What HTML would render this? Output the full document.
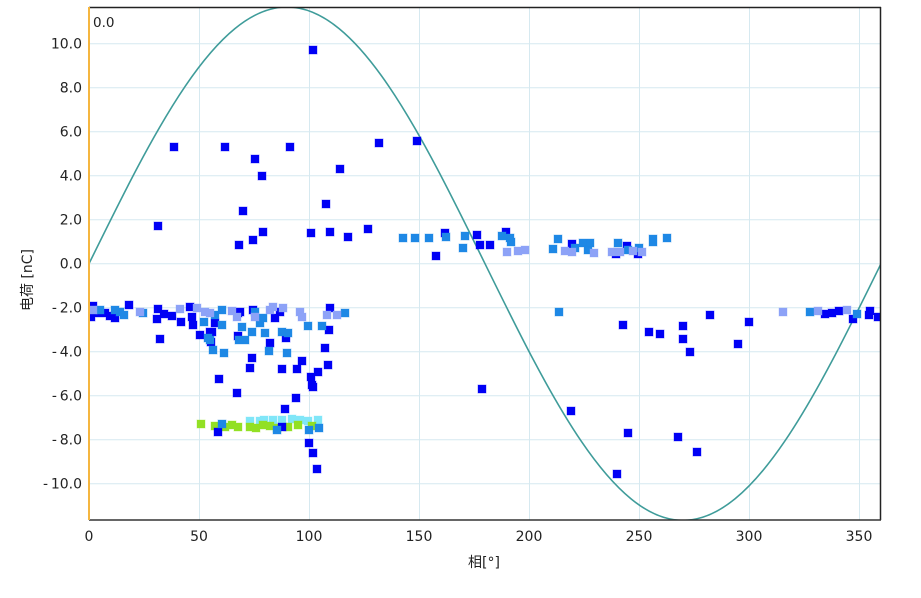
<!DOCTYPE html>
<html><head><meta charset="utf-8"><style>
html,body{margin:0;padding:0;background:#fff;}
body{width:921px;height:598px;overflow:hidden;}
svg{display:block;}
text{font-family:"DejaVu Sans","Liberation Sans","Noto Sans CJK SC",sans-serif;fill:#222;}
</style></head><body>
<svg width="921" height="598" viewBox="0 0 921 598" xmlns="http://www.w3.org/2000/svg">
<defs><clipPath id="pa"><rect x="89" y="7" width="792" height="513"/></clipPath></defs>
<rect x="0" y="0" width="921" height="598" fill="#fff"/>
<g stroke="#d6e9f0" stroke-width="1">
<line x1="199.5" y1="7" x2="199.5" y2="520"/><line x1="309.5" y1="7" x2="309.5" y2="520"/><line x1="419.5" y1="7" x2="419.5" y2="520"/><line x1="529.5" y1="7" x2="529.5" y2="520"/><line x1="639.5" y1="7" x2="639.5" y2="520"/><line x1="749.5" y1="7" x2="749.5" y2="520"/><line x1="859.5" y1="7" x2="859.5" y2="520"/>
<line x1="89" y1="43.7" x2="881" y2="43.7"/><line x1="89" y1="87.7" x2="881" y2="87.7"/><line x1="89" y1="131.7" x2="881" y2="131.7"/><line x1="89" y1="175.7" x2="881" y2="175.7"/><line x1="89" y1="219.7" x2="881" y2="219.7"/><line x1="89" y1="263.7" x2="881" y2="263.7"/><line x1="89" y1="307.7" x2="881" y2="307.7"/><line x1="89" y1="351.7" x2="881" y2="351.7"/><line x1="89" y1="395.7" x2="881" y2="395.7"/><line x1="89" y1="439.7" x2="881" y2="439.7"/><line x1="89" y1="483.7" x2="881" y2="483.7"/>
</g>
<g clip-path="url(#pa)">
<path fill="none" stroke="#3f9c9a" stroke-width="1.6" d="M89 263.7 C153.57 132.2 215.34 7 287 7 C358.66 7 420.43 132.2 485 263.7 C549.57 395.2 611.34 520.4 683 520.4 C754.66 520.4 816.43 395.2 881 263.7"/>
<g stroke-width="1" stroke-opacity="0.35">
<path fill="#80e6f8" stroke="#80e6f8" d="M246 417h8v8h-8z M256 417h8v8h-8z M269 416h8v8h-8z M278 416h8v8h-8z M288 415h8v8h-8z M304 417h8v8h-8z M314 416h8v8h-8z M296 416h8v8h-8z M260 416h8v8h-8z"/>
<path fill="#92e024" stroke="#92e024" d="M197 420h8v8h-8z M211 422h8v8h-8z M221 423h8v8h-8z M228 421h8v8h-8z M234 423h8v8h-8z M246 423h8v8h-8z M259 421h8v8h-8z M273 424h8v8h-8z M284 423h8v8h-8z M294 421h8v8h-8z M308 422h8v8h-8z M266 422h8v8h-8z M252 424h8v8h-8z"/>
<path fill="#0000f5" stroke="#0000f5" d="M170 143h8v8h-8z M221 143h8v8h-8z M251 155h8v8h-8z M258 172h8v8h-8z M286 143h8v8h-8z M239 207h8v8h-8z M154 222h8v8h-8z M235 241h8v8h-8z M249 236h8v8h-8z M259 228h8v8h-8z M307 229h8v8h-8z M326 228h8v8h-8z M344 233h8v8h-8z M364 225h8v8h-8z M375 139h8v8h-8z M413 137h8v8h-8z M336 165h8v8h-8z M322 200h8v8h-8z M432 252h8v8h-8z M441 229h8v8h-8z M309 46h8v8h-8z
M473 231h8v8h-8z M476 241h8v8h-8z M486 241h8v8h-8z M502 228h8v8h-8z M568 240h8v8h-8z M623 242h8v8h-8z M634 250h8v8h-8z M612 250h8v8h-8z
M619 321h8v8h-8z M645 328h8v8h-8z M656 330h8v8h-8z M679 322h8v8h-8z M679 335h8v8h-8z M686 348h8v8h-8z M706 311h8v8h-8z M734 340h8v8h-8z M745 318h8v8h-8z M624 429h8v8h-8z M674 433h8v8h-8z M693 448h8v8h-8z M567 407h8v8h-8z M613 470h8v8h-8z M478 385h8v8h-8z M821 310h8v8h-8z M828 309h8v8h-8z M835 307h8v8h-8z M849 315h8v8h-8z M866 307h8v8h-8z M865 311h8v8h-8z M874 313h8v8h-8z
M89 302h8v8h-8z M87 313h8v8h-8z M101 309h8v8h-8z M111 314h8v8h-8z M125 301h8v8h-8z M154 305h8v8h-8z M153 315h8v8h-8z M160 310h8v8h-8z M168 312h8v8h-8z M177 318h8v8h-8z M156 335h8v8h-8z M186 303h8v8h-8z M188 313h8v8h-8z M189 321h8v8h-8z M196 331h8v8h-8z M206 328h8v8h-8z M207 338h8v8h-8z M211 319h8v8h-8z M215 375h8v8h-8z M208 328h8v8h-8z M234 309h8v8h-8z M234 332h8v8h-8z M249 306h8v8h-8z M236 308h8v8h-8z M266 339h8v8h-8z M248 354h8v8h-8z M246 364h8v8h-8z M278 365h8v8h-8z M282 334h8v8h-8z M276 308h8v8h-8z M271 314h8v8h-8z M298 357h8v8h-8z M293 365h8v8h-8z M321 344h8v8h-8z M325 326h8v8h-8z M324 361h8v8h-8z M314 368h8v8h-8z M307 373h8v8h-8z M308 381h8v8h-8z M326 304h8v8h-8z M233 389h8v8h-8z M309 383h8v8h-8z M292 394h8v8h-8z M281 405h8v8h-8z M305 439h8v8h-8z M309 449h8v8h-8z M313 465h8v8h-8z M214 428h8v8h-8z M278 423h8v8h-8z M94 309h8v8h-8z M106 312h8v8h-8z"/>
<path fill="#1e88e5" stroke="#1e88e5" d="M399 234h8v8h-8z M411 234h8v8h-8z M425 234h8v8h-8z M442 233h8v8h-8z M461 232h8v8h-8z M459 244h8v8h-8z M498 232h8v8h-8z M506 234h8v8h-8z M507 238h8v8h-8z M549 245h8v8h-8z M554 235h8v8h-8z M571 244h8v8h-8z M579 239h8v8h-8z M586 239h8v8h-8z M584 246h8v8h-8z M614 239h8v8h-8z M624 246h8v8h-8z M635 244h8v8h-8z M649 235h8v8h-8z M649 238h8v8h-8z M663 234h8v8h-8z M555 308h8v8h-8z M806 308h8v8h-8z M853 310h8v8h-8z
M111 306h8v8h-8z M120 311h8v8h-8z M139 309h8v8h-8z M218 306h8v8h-8z M200 318h8v8h-8z M218 321h8v8h-8z M206 336h8v8h-8z M209 346h8v8h-8z M220 349h8v8h-8z M235 336h8v8h-8z M204 334h8v8h-8z M211 311h8v8h-8z M238 323h8v8h-8z M248 328h8v8h-8z M261 329h8v8h-8z M251 308h8v8h-8z M256 319h8v8h-8z M259 314h8v8h-8z M278 328h8v8h-8z M284 329h8v8h-8z M265 347h8v8h-8z M283 349h8v8h-8z M304 322h8v8h-8z M318 322h8v8h-8z M341 309h8v8h-8z M241 336h8v8h-8z M218 420h8v8h-8z M273 426h8v8h-8z M305 426h8v8h-8z M315 424h8v8h-8z M96 306h8v8h-8z M116 308h8v8h-8z"/>
<path fill="#8da2f7" stroke="#8da2f7" d="M503 248h8v8h-8z M514 247h8v8h-8z M561 247h8v8h-8z M568 248h8v8h-8z M590 249h8v8h-8z M608 248h8v8h-8z M616 248h8v8h-8z M629 247h8v8h-8z M638 248h8v8h-8z M521 246h8v8h-8z M779 308h8v8h-8z M814 307h8v8h-8z M843 306h8v8h-8z
M89 306h8v8h-8z M176 305h8v8h-8z M136 308h8v8h-8z M193 304h8v8h-8z M201 308h8v8h-8z M228 307h8v8h-8z M206 309h8v8h-8z M233 313h8v8h-8z M251 313h8v8h-8z M266 306h8v8h-8z M269 303h8v8h-8z M279 304h8v8h-8z M296 308h8v8h-8z M298 313h8v8h-8z M323 311h8v8h-8z M333 311h8v8h-8z"/>
</g>
</g>
<line x1="89" y1="7.5" x2="881" y2="7.5" stroke="#222" stroke-width="1.5"/>
<line x1="880.5" y1="7" x2="880.5" y2="520" stroke="#222" stroke-width="1.5"/>
<line x1="89" y1="520" x2="881" y2="520" stroke="#333" stroke-width="1.5"/>
<line x1="89" y1="7" x2="89" y2="520" stroke="#f5b640" stroke-width="2"/>
<text x="93" y="27" font-size="13.5">0.0</text>
<g font-size="14" text-anchor="end">
<text x="82" y="48.7">10.0</text>
<text x="82" y="92.7">8.0</text>
<text x="82" y="136.7">6.0</text>
<text x="82" y="180.7">4.0</text>
<text x="82" y="224.7">2.0</text>
<text x="82" y="268.7">0.0</text>
<text x="82" y="312.7">-&#8201;2.0</text>
<text x="82" y="356.7">-&#8201;4.0</text>
<text x="82" y="400.7">-&#8201;6.0</text>
<text x="82" y="444.7">-&#8201;8.0</text>
<text x="82" y="488.7">-&#8201;10.0</text>
</g>
<g font-size="14" text-anchor="middle">
<text x="89" y="541">0</text>
<text x="199" y="541">50</text>
<text x="309" y="541">100</text>
<text x="419" y="541">150</text>
<text x="529" y="541">200</text>
<text x="639" y="541">250</text>
<text x="749" y="541">300</text>
<text x="859" y="541">350</text>
</g>
<text x="484" y="567" font-size="14" text-anchor="middle">相[°]</text>
<text transform="translate(32,280) rotate(-90)" font-size="14" text-anchor="middle">电荷 [nC]</text>
</svg>
</body></html>
